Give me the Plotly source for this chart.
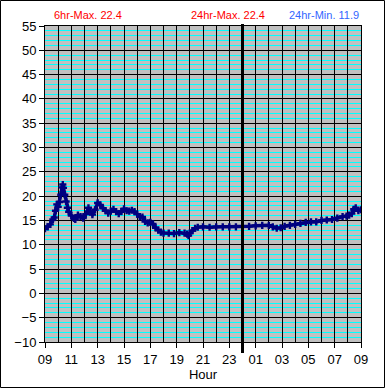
import plotly.graph_objects as go

# hours since 09:00
hours = [0.0, 0.2, 0.4, 0.6, 0.7, 0.8, 0.9, 1.0, 1.1, 1.2, 1.3, 1.35, 1.4, 1.5, 1.6, 1.7, 1.8,
         2.0, 2.2, 2.3, 2.5, 2.7, 2.9, 3.1, 3.3, 3.45, 3.6, 3.8, 4.0, 4.2, 4.4, 4.6, 4.8,
         5.0, 5.2, 5.4, 5.6, 5.8, 6.0, 6.2, 6.4, 6.6, 6.8, 7.0, 7.2, 7.4, 7.6, 7.8,
         8.0, 8.2, 8.4, 8.6, 8.8, 9.0, 9.4, 9.8, 10.2, 10.6, 10.8, 10.9, 11.0, 11.2, 11.4, 11.6,
         12.0, 12.5, 13.0, 13.5, 14.0, 14.5, 15.0, 15.5, 16.0, 16.5, 17.0, 17.3, 17.6, 17.9,
         18.2, 18.6, 19.0, 19.4, 19.8, 20.2, 20.6, 21.0, 21.4, 21.8, 22.2, 22.6, 22.9,
         23.1, 23.3, 23.45, 23.6, 23.8, 24.0]
temps = [13.3, 13.7, 14.2, 15.2, 15.6, 17.0, 18.3, 17.8, 18.8, 20.3, 21.8, 22.4, 21.7, 20.3, 18.9, 17.6, 16.8,
         16.0, 15.4, 15.2, 16.1, 15.8, 15.5, 16.3, 17.6, 16.8, 16.2, 17.2, 18.6, 18.2, 17.5, 17.0, 16.5,
         16.9, 17.3, 16.8, 16.4, 16.8, 17.4, 17.0, 16.9, 17.1, 16.8, 16.3, 15.8, 15.7, 14.8, 14.5,
         14.6, 14.3, 13.5, 13.0, 12.6, 12.4, 12.4, 12.3, 12.5, 12.4, 12.2, 11.9, 12.4, 12.9, 13.4, 13.6,
         13.7, 13.6, 13.7, 13.7, 13.7, 13.7, 13.8, 13.8, 13.9, 14.0, 14.0, 13.7, 13.4, 13.5,
         13.8, 14.0, 14.2, 14.4, 14.6, 14.7, 14.7, 15.0, 15.1, 15.2, 15.5, 15.8, 15.9,
         16.1, 16.4, 17.3, 17.6, 17.0, 17.2]

grid_hours = list(range(0, 25))
tick_vals = [0, 2, 4, 6, 8, 10, 12, 14, 16, 18, 20, 22, 24]
tick_text = ["09", "11", "13", "15", "17", "19", "21", "23", "01", "03", "05", "07", "09"]
midnight = 15

titles = [("6hr-Max. 22.4", 0.135, "#FF0000"),
          ("24hr-Max. 22.4", 0.579, "#FF0000"),
          ("24hr-Min. 11.9", 0.883, "#3366FF")]

fig = go.Figure()
# empty trace so the hourly grid axis (x2) gets drawn
fig.add_trace(go.Scatter(x=[], y=[], xaxis="x2", yaxis="y", showlegend=False, hoverinfo="skip"))
fig.add_trace(go.Scatter(
    x=hours, y=temps, mode="lines+markers",
    line=dict(color="#000080", width=3.5),
    marker=dict(symbol="cross", size=6, color="#000080"),
    showlegend=False, hoverinfo="skip"))

fig.update_layout(
    width=385, height=388,
    margin=dict(l=45, r=24, t=26, b=46),
    paper_bgcolor="white", plot_bgcolor="#C0C0C0",
    font=dict(family="Liberation Sans, Arial, sans-serif", size=13, color="black"),
    xaxis=dict(range=[0, 24], tickmode="array", tickvals=tick_vals, ticktext=tick_text,
               showgrid=False, ticks="outside", ticklen=5, tickcolor="black",
               ticklabelstandoff=0, automargin=False,
               showline=True, linecolor="black", linewidth=1, mirror=True,
               zeroline=False, fixedrange=True,
               title=dict(text="Hour", standoff=2, font=dict(size=13))),
    xaxis2=dict(range=[0, 24], overlaying="x", anchor="y", side="bottom",
                tickmode="array", tickvals=grid_hours, showticklabels=False, ticks="",
                showgrid=True, gridcolor="black", gridwidth=1, automargin=False,
                showline=False, zeroline=False, fixedrange=True),
    yaxis=dict(range=[-10, 55], dtick=5, tick0=0, automargin=False,
               showgrid=True, gridcolor="black", gridwidth=1,
               minor=dict(dtick=1, tick0=0, showgrid=True, gridcolor="#00FFFF", gridwidth=1),
               ticks="outside", ticklen=5, tickcolor="black",
               showline=True, linecolor="black", linewidth=1, mirror=True,
               zeroline=False, fixedrange=True),
)

fig.add_shape(type="line", xref="x", yref="paper", x0=midnight, x1=midnight,
              y0=-0.035, y1=1.006, line=dict(color="black", width=3))
# outer frame
fig.add_shape(type="rect", xref="paper", yref="paper",
              x0=-44.5 / 316, x1=1 + 23.5 / 316, y0=-45.5 / 316, y1=1 + 25.5 / 316,
              line=dict(color="black", width=1))

for text, xp, col in titles:
    fig.add_annotation(text=text, xref="paper", yref="paper", x=xp, y=1 + 11 / 316,
                       showarrow=False, font=dict(size=11, color=col),
                       xanchor="center", yanchor="middle")

fig.write_html("out.html", config={"displayModeBar": False},
               post_script="document.body.style.margin='0';")
